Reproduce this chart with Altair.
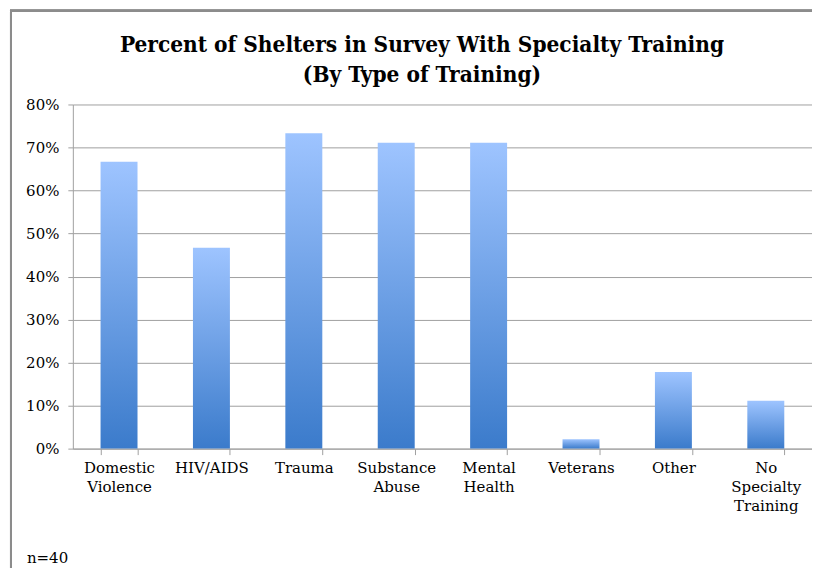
import altair as alt
import pandas as pd

categories = ["Domestic|Violence", "HIV/AIDS", "Trauma", "Substance|Abuse",
              "Mental|Health", "Veterans", "Other", "No|Specialty|Training"]
values = [0.667, 0.467, 0.733, 0.711, 0.711, 0.022, 0.178, 0.111]
y_ticks = [0, 0.1, 0.2, 0.3, 0.4, 0.5, 0.6, 0.7, 0.8]
title_lines = "Percent of Shelters in Survey With Specialty Training\n(By Type of Training)"
note_text = "n=40"

df = pd.DataFrame({"cat": categories, "val": values})

FONT = "DejaVu Serif"
GRID = "#a0a0a0"

grad = alt.Gradient(
    gradient="linear",
    stops=[alt.GradientStop(color="#9ec4ff", offset=0),
           alt.GradientStop(color="#3b7bcb", offset=1)],
    x1=0, x2=0, y1=0, y2=1,
)

bars = alt.Chart(df).mark_bar(color=grad).encode(
    x=alt.X("cat:N", sort=categories, title=None,
            scale=alt.Scale(paddingInner=0.6, paddingOuter=0.3),
            axis=alt.Axis(labelExpr="split(datum.label, '|')", labelAngle=0,
                          labelFont=FONT, labelFontSize=15, labelColor="#000",
                          labelLineHeight=19, labelBaseline="top", labelPadding=6,
                          tickBand="extent", tickSize=6, tickColor=GRID,
                          domainColor=GRID, grid=False)),
    y=alt.Y("val:Q", title=None,
            scale=alt.Scale(domain=[0, 0.8], nice=False),
            axis=alt.Axis(values=y_ticks, format=".0%", labelFont=FONT,
                          labelFontSize=15, labelColor="#000", labelPadding=9,
                          tickSize=5, tickColor=GRID, domainColor=GRID,
                          gridColor=GRID, grid=True)),
)

border = alt.Chart(df).mark_rect(fill=None, stroke="#8c8c8c", strokeWidth=2).encode(
    x=alt.value(-62), x2=alt.value(760), y=alt.value(-94), y2=alt.value(480)
)

title = alt.Chart(pd.DataFrame({"t": [title_lines]})).mark_text(
    font="DejaVu Serif Condensed", fontWeight="bold", fontSize=22.5,
    lineBreak="\n", lineHeight=30, align="center", baseline="alphabetic", color="#000"
).encode(x=alt.value(350), y=alt.value(-53), text="t:N")

note = alt.Chart(pd.DataFrame({"t": [note_text]})).mark_text(
    font=FONT, fontSize=15, align="left", baseline="middle", color="#000"
).encode(x=alt.value(-46), y=alt.value(455), text="t:N")

chart = alt.layer(border, bars, title, note).properties(
    width=741, height=345,
    autosize=alt.AutoSizeParams(type="none"),
    padding={"left": 65, "top": 96, "right": 0, "bottom": 130},
).configure_view(stroke=None)

chart.save("out.html", embed_options={"renderer": "svg", "actions": False})
